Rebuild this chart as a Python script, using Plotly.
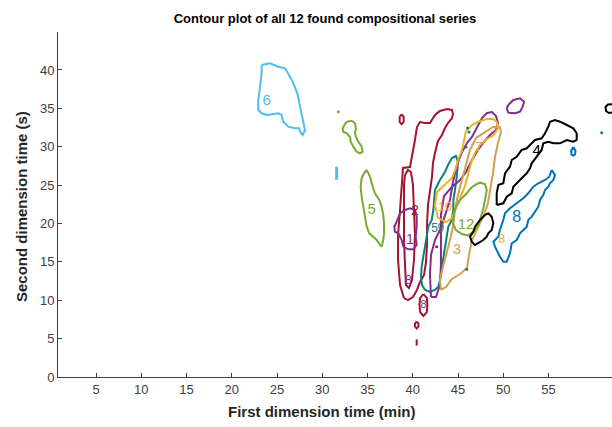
import plotly.graph_objects as go

# ---- Contour outlines: first dimension time (min), second dimension time (s) ----
s6_x = [23.30,24.22,25.14,25.88,26.43,26.80,27.24,27.46,27.72,27.90,28.09,27.83,27.54,27.46,26.98,26.24,25.69,25.51,25.14,23.86,23.30,22.93,22.93,23.12,23.30,23.30]
s6_y = [40.65,40.87,40.43,40.22,39.13,38.27,36.96,35.66,34.36,33.48,32.18,31.53,31.96,32.40,32.40,32.61,33.26,34.14,34.36,34.14,34.36,34.79,36.09,37.82,39.57,40.65]
s6b_x = [31.59,31.59]
s6b_y = [27.4,25.7]

g5a_x = [32.70,33.25,33.61,33.72,33.61,33.87,34.35,34.46,34.17,33.80,33.43,33.14,33.06,32.70,32.32,32.26,32.51,32.70]
g5a_y = [33.26,33.39,33.05,32.40,31.75,30.88,30.01,29.35,29.15,29.35,30.01,30.66,31.31,31.75,31.96,32.40,32.96,33.26]
g5_x = [34.91,35.27,35.57,35.82,36.30,36.56,36.74,36.82,36.82,36.74,36.56,36.38,36.01,35.57,35.19,34.91,34.72,34.53,34.35,34.24,34.35,34.61,34.91]
g5_y = [26.97,26.10,24.79,23.93,23.06,22.19,21.11,20.03,18.72,17.85,16.98,17.20,17.85,18.28,18.72,19.58,20.89,22.19,23.49,24.79,25.89,26.54,26.97]

c1_x = [39.03,38.59,38.37,38.37,38.59,38.81,38.92,39.69,40.02,40.24,40.46,40.80,41.35,41.90,42.45,43.00,43.78,44.33,44.44,44.33,43.89,43.56,43.22,42.78,42.45,42.23,42.12,41.90,41.68,41.57,41.57,41.46,41.24,40.80,40.46,40.02,39.47,39.03]
c1_y = [10.29,11.99,15.24,18.50,21.76,25.02,27.23,27.36,29.19,30.88,32.57,33.22,33.09,33.09,34.14,34.66,34.92,34.79,34.27,33.74,33.09,32.44,31.53,30.75,29.19,27.88,26.06,24.36,22.41,19.80,17.20,14.98,13.29,12.38,11.34,10.42,10.03,10.29]
c2_x = [39.14,39.47,39.80,40.02,40.13,40.24,40.13,39.91,39.58,39.25,39.14,39.03,39.03,39.03,39.14]
c2_y = [26.32,26.97,26.71,25.02,21.76,18.50,15.24,12.64,11.60,11.99,14.59,17.85,21.76,25.02,26.32]
c3_x = [41.18,41.55,41.62,41.55,41.18,40.81,40.74,40.81,41.18]
c3_y = [10.81,10.30,9.38,8.46,7.95,8.46,9.38,10.30,10.81]
c4_x = [40.43,40.63,40.63,40.43,40.23,40.23,40.43]
c4_y = [7.22,6.95,6.59,6.32,6.59,6.95,7.22]
c5_x = [40.43,40.43]
c5_y = [4.9,4.1]
c6_x = [38.77,38.99,38.99,38.77,38.55,38.55,38.77]
c6_y = [34.23,33.90,33.25,32.93,33.25,33.90,34.23]

p1_x = [38.22,38.59,39.14,39.69,40.24,40.43,40.43,40.32,40.43,40.06,39.50,38.95,38.77,38.40,38.03,37.96,38.22]
p1_y = [20.23,21.33,21.76,21.98,21.76,20.89,19.58,18.28,17.20,16.64,16.64,16.98,17.85,18.72,18.93,19.58,20.23]
p2_x = [42.01,41.90,42.01,42.45,43.11,43.67,44.11,44.44,44.88,45.44,45.99,46.54,46.98,47.64,48.20,48.75,49.19,49.41,49.19,48.53,47.86,47.20,46.54,45.88,45.22,44.33,43.45,43.11,43.11,43.11,43.00,42.56,42.01]
p2_y = [10.42,13.29,15.90,17.85,19.41,21.50,23.06,25.41,27.62,29.32,30.49,31.27,32.18,33.74,34.40,34.53,34.01,33.09,32.18,31.53,30.62,29.58,28.27,26.71,25.67,24.76,23.58,21.11,17.85,14.59,11.99,10.42,10.42]
p3_x = [50.55,51.11,51.85,52.29,52.14,51.85,51.29,50.55,50.38,50.55]
p3_y = [35.44,36.09,36.31,35.87,35.22,34.57,34.36,34.44,35.01,35.44]

t1_x = [41.35,41.02,40.91,40.98,41.16,41.35,41.54,41.71,42.09,42.27,42.45,43.00,43.56,43.89,44.33,44.77,44.99,44.88,44.66,44.48,44.48,44.30,43.92,43.75,43.56,43.37,43.19,43.00,42.82,42.45,41.90,41.35]
t1_y = [11.34,11.99,13.03,14.37,15.67,16.98,18.72,19.58,20.46,21.76,24.36,25.67,26.71,27.62,28.53,28.79,28.01,26.32,24.36,23.06,21.76,20.46,19.58,18.28,16.98,15.67,13.94,12.64,11.77,11.34,11.11,11.34]
t_dots_x = [46.05,46.21,45.88,45.96]
t_dots_y = [32.44,31.92,29.97,14.03]

o1_x = [42.78,42.45,42.67,43.45,44.33,44.77,44.99,45.44,45.66,45.88,46.54,47.42,48.20,48.86,49.30,49.41,48.97,48.20,47.42,46.87,46.43,46.10,45.77,45.22,44.77,44.33,43.67,42.78]
o1_y = [20.72,22.41,24.10,25.02,25.93,27.23,28.27,29.58,30.88,32.05,32.83,33.35,33.61,33.61,33.22,32.44,31.53,31.01,30.23,29.19,27.88,26.32,24.89,23.32,22.02,20.72,20.19,20.72]

n1_x = [43.11,43.00,43.34,43.78,44.11,44.44,44.66,44.99,45.44,45.88,46.32,46.98,47.98,48.86,49.63,49.74,49.41,49.08,48.86,48.64,48.31,47.86,47.20,46.54,46.21,45.99,45.22,44.33,43.67,43.11]
n1_y = [11.34,12.64,14.33,16.16,17.85,19.54,21.76,23.71,25.67,27.62,29.58,31.14,31.92,32.57,32.57,31.92,30.49,28.66,26.58,24.76,22.67,21.11,19.41,17.85,15.90,14.20,13.42,12.77,11.73,11.34]

g12_x = [46.87,47.42,47.98,48.17,47.98,47.75,47.42,47.20,46.76,46.10,45.41,44.77,44.44,44.55,44.77,45.22,45.88,46.43,46.87]
g12_y = [25.02,25.32,25.15,24.36,23.06,21.76,20.46,19.67,19.02,18.44,18.63,19.15,20.06,21.24,22.15,23.06,23.84,24.62,25.02]

k4_x = [49.27,49.27,49.45,50.00,50.19,50.74,50.93,51.48,52.03,52.59,52.95,53.50,54.24,54.61,54.97,55.16,55.71,56.27,57.01,57.74,58.11,58.11,57.74,57.01,56.27,55.53,54.97,54.42,54.24,53.69,53.14,52.95,52.59,52.03,51.48,51.11,50.93,50.38,50.00,49.27]
k4_y = [22.41,23.93,25.02,25.24,26.54,27.40,28.27,28.70,29.58,29.80,30.23,30.88,31.10,31.75,32.61,33.26,33.48,33.26,32.83,32.40,31.75,30.88,30.66,30.88,30.45,30.45,30.66,30.45,29.58,28.70,27.84,27.19,26.54,25.89,25.24,24.79,23.93,23.49,22.63,22.41]
k2_x = [47.42,47.98,48.34,48.72,48.90,48.72,48.34,48.17,47.79,47.24,46.87,46.51,46.32,46.69,46.87,47.42]
k2_y = [20.46,21.11,21.33,20.89,20.03,19.15,18.72,18.28,17.85,17.42,17.20,17.63,18.28,18.93,19.58,20.46]
k3_x = [62.5,62.01,61.57,61.29,61.35,61.68,62.01,62.5]
k3_y = [35.6,35.57,35.50,35.18,34.66,34.40,34.46,34.4]

b8_x = [55.35,55.71,55.53,55.16,54.97,54.61,54.42,54.06,53.87,53.50,53.14,52.76,52.59,52.21,51.85,51.48,50.93,50.74,50.38,50.00,49.63,49.08,48.90,49.45,49.63,50.00,50.19,50.74,51.48,52.21,52.76,53.32,53.87,54.61,55.08,55.35]
b8_y = [26.97,26.32,25.67,25.24,24.79,24.36,23.71,23.06,22.19,21.54,20.89,20.46,19.58,19.15,18.72,17.85,17.42,16.12,15.02,15.02,15.67,16.98,17.63,18.28,19.15,20.46,21.33,21.98,22.63,23.28,23.93,24.79,25.24,25.67,26.10,26.97]
b2_x = [57.74,57.98,57.92,57.74,57.54,57.49,57.74]
b2_y = [29.97,29.45,28.99,28.86,28.99,29.45,29.97]

# series labels
lab_text = ["6", "5", "2", "1", "8", "8", "10", "5", "9", "12", "3", "7", "8", "4", "8"]
lab_x = [23.86, 35.46, 40.24, 39.69, 39.52, 41.18, 43.55, 42.40, 43.10, 45.88, 44.88, 47.31, 49.82, 53.69, 51.48]
lab_y = [35.87, 21.76, 21.50, 17.85, 12.51, 9.38, 22.00, 19.30, 19.30, 19.80, 16.55, 29.84, 17.85, 29.35, 20.68]

x_ticks = [5, 10, 15, 20, 25, 30, 35, 40, 45, 50, 55]
y_ticks = [0, 5, 10, 15, 20, 25, 30, 35, 40]

LBLUE = "#4DBEEE"; GREEN = "#77AC30"; CRIM = "#A2142F"; PURP = "#7E2F8E"
TEAL = "#0E7F7C"; ORNG = "#EDB120"; TAN = "#D3A152"; BLK = "#000000"; BLUE = "#0072BD"
lab_color = [LBLUE, GREEN, CRIM, PURP, PURP, PURP, ORNG, TEAL, TEAL, GREEN, TAN, TAN, ORNG, BLK, BLUE]
lab_size = [15, 15, 14, 14, 13, 11, 13, 12, 12, 15, 15, 13, 13, 15, 16]

fig = go.Figure()

def outline(xs, ys, color, w=2.0):
    fig.add_trace(go.Scatter(x=xs, y=ys, mode="lines", line=dict(color=color, width=w),
                             hoverinfo="skip", showlegend=False))

outline(s6_x, s6_y, LBLUE)
outline(s6b_x, s6b_y, LBLUE, 3)
outline(g5a_x, g5a_y, GREEN)
outline(g5_x, g5_y, GREEN)
outline(c1_x, c1_y, CRIM)
outline(c2_x, c2_y, CRIM)
outline(c3_x, c3_y, CRIM)
outline(c4_x, c4_y, CRIM)
outline(c5_x, c5_y, CRIM)
outline(c6_x, c6_y, CRIM)
outline(p1_x, p1_y, PURP)
outline(t1_x, t1_y, TEAL)
outline(p2_x, p2_y, PURP)
outline(n1_x, n1_y, TAN)
outline(o1_x, o1_y, ORNG)
outline(p3_x, p3_y, PURP)
outline(g12_x, g12_y, GREEN)
outline(k4_x, k4_y, BLK)
outline(k2_x, k2_y, BLK)
outline(k3_x, k3_y, BLK)
outline(b8_x, b8_y, BLUE)
outline(b2_x, b2_y, BLUE)

fig.add_trace(go.Scatter(x=t_dots_x, y=t_dots_y, mode="markers",
                         marker=dict(color=TEAL, size=3), showlegend=False, hoverinfo="skip"))
fig.add_trace(go.Scatter(x=[31.77, 42.64, 60.87], y=[34.57, 16.98, 31.83], mode="markers",
                         marker=dict(color=[GREEN, CRIM, BLUE], size=3), showlegend=False, hoverinfo="skip"))

fig.add_trace(go.Scatter(x=lab_x, y=lab_y, mode="text", text=lab_text,
                         textfont=dict(color=lab_color, size=lab_size, family="Liberation Sans"),
                         showlegend=False, hoverinfo="skip"))

axis_font = dict(family="Liberation Sans", size=13, color="#404040")
fig.update_layout(
    width=612, height=427,
    margin=dict(l=58, r=0, t=32, b=50),
    plot_bgcolor="white", paper_bgcolor="white",
    title=dict(text="<b>Contour plot of all 12 found compositional series</b>",
               x=325/612, xref="container", xanchor="center",
               y=1-18/427, yref="container", yanchor="middle",
               font=dict(family="Liberation Sans", size=13, color="#000000")),
    xaxis=dict(range=[0.80, 62.01], tickvals=x_ticks, ticks="inside", ticklen=4,
               tickcolor="#404040", showline=True, linecolor="#404040", linewidth=1,
               showgrid=False, zeroline=False, tickfont=axis_font),
    yaxis=dict(range=[0, 44.95], tickvals=y_ticks, ticks="inside", ticklen=4,
               tickcolor="#404040", showline=True, linecolor="#404040", linewidth=1,
               showgrid=False, zeroline=False, tickfont=axis_font),
    annotations=[
        dict(text="<b>First dimension time (min)</b>",
             x=(322-58)/(612-58), y=(377-411)/(377-32),
             xref="paper", yref="paper", showarrow=False, xanchor="center", yanchor="middle",
             font=dict(family="Liberation Sans", size=15, color="#262626")),
        dict(text="<b>Second dimension time (s)</b>",
             x=(21-58)/(612-58), y=(377-207)/(377-32),
             xref="paper", yref="paper", showarrow=False, textangle=-90,
             xanchor="center", yanchor="middle",
             font=dict(family="Liberation Sans", size=15, color="#262626")),
    ],
)

fig.write_html("out.html")
